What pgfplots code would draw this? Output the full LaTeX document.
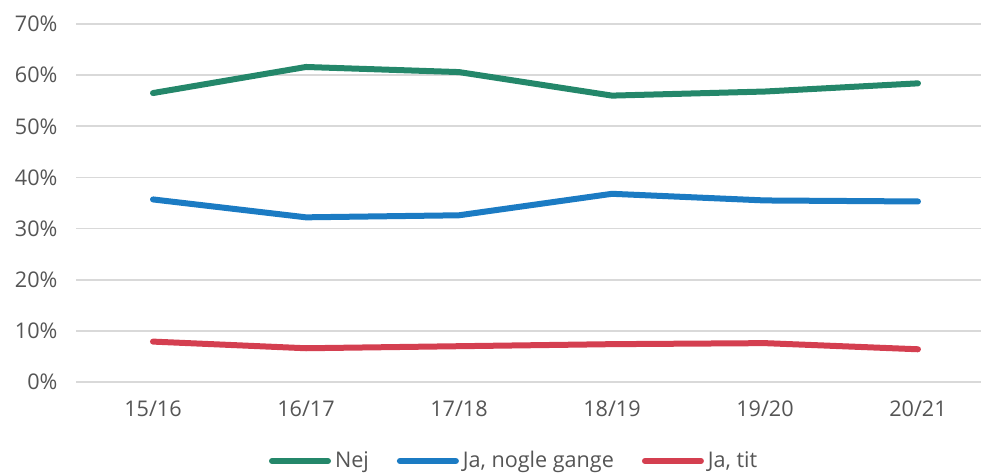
\documentclass[border=0pt]{standalone}
\usepackage{fontspec}
\setmainfont{Open Sans}
\usepackage{pgfplots}
\pgfplotsset{compat=1.18}

\definecolor{cgreen}{HTML}{24876A}
\definecolor{cblue}{HTML}{1B7BC3}
\definecolor{cred}{HTML}{D43F50}
\definecolor{ctext}{HTML}{555555}
\definecolor{cgrid}{HTML}{D9D9D9}

\begin{document}
\begin{tikzpicture}
\begin{axis}[
  at={(0,0)}, anchor=south west,
  scale only axis,
  width=452.25pt, height=179pt,
  xmin=-0.5, xmax=5.412,
  ymin=0, ymax=70,
  axis line style={draw=none},
  tick style={draw=none},
  xtick={0,1,2,3,4,5},
  xticklabels={15/16,16/17,17/18,18/19,19/20,20/21},
  ytick={0,10,20,30,40,50,60,70},
  yticklabel={\pgfmathprintnumber{\tick}\%},
  /pgf/number format/assume math mode=true,
  ymajorgrids,
  grid style={cgrid, line width=0.8pt},
  xticklabel style={font=\fontsize{10.8}{12}\selectfont, text=ctext, yshift=-6pt},
  yticklabel style={font=\fontsize{10.8}{12}\selectfont, text=ctext, xshift=-6pt},
  legend columns=3,
  legend style={at={(0.485,-39.5pt)}, anchor=center, draw=none, fill=none,
    font=\fontsize{10.8}{12}\selectfont, text=ctext,
    /tikz/every even column/.append style={column sep=12pt},
    inner sep=0pt},
  legend image code/.code={\draw[#1, line cap=round] (0pt,0pt) -- (28pt,0pt);},
  clip=false,
]
\addplot[cgreen, line width=3pt, line join=round, line cap=round]
  coordinates {(0,56.5) (1,61.6) (2,60.6) (3,56.0) (4,56.8) (5,58.4)};
\addlegendentry{Nej}
\addplot[cblue, line width=3pt, line join=round, line cap=round]
  coordinates {(0,35.7) (1,32.2) (2,32.6) (3,36.8) (4,35.5) (5,35.3)};
\addlegendentry{Ja, nogle gange}
\addplot[cred, line width=3pt, line join=round, line cap=round]
  coordinates {(0,7.9) (1,6.6) (2,7.0) (3,7.4) (4,7.6) (5,6.4)};
\addlegendentry{Ja, tit}
\end{axis}
\pgfresetboundingbox
\path[use as bounding box] (-38.25pt,-45.5pt) rectangle (452.25pt,191pt);
\end{tikzpicture}
\end{document}
